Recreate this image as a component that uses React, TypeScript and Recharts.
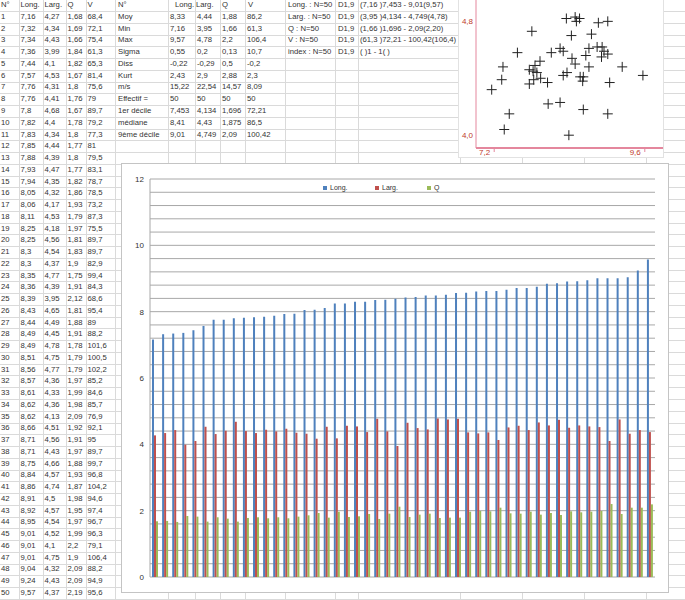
import React from "react";
import {
  BarChart, Bar, XAxis, YAxis, CartesianGrid, Legend, ScatterChart, Scatter,
} from "recharts";

// sample data (sheet columns A..E)
const ids = [
  1, 2, 3, 4, 5, 6, 7, 8, 9, 10, 11, 12, 13, 14, 15, 16, 17, 18, 19, 20, 21, 22, 23, 24, 25,
  26, 27, 28, 29, 30, 31, 32, 33, 34, 35, 36, 37, 38, 39, 40, 41, 42, 43, 44, 45, 46, 47, 48, 49, 50,
];
const longs = [
  7.16, 7.32, 7.34, 7.36, 7.44, 7.57, 7.76, 7.76, 7.8, 7.82, 7.83, 7.85, 7.88, 7.93, 7.94, 8.05, 8.06,
  8.11, 8.25, 8.25, 8.3, 8.3, 8.35, 8.36, 8.39, 8.43, 8.44, 8.49, 8.49, 8.51, 8.56, 8.57, 8.61, 8.62,
  8.62, 8.66, 8.71, 8.71, 8.75, 8.84, 8.86, 8.91, 8.92, 8.95, 9.01, 9.01, 9.01, 9.04, 9.24, 9.57,
];
const largs = [
  4.27, 4.34, 4.43, 3.99, 4.1, 4.53, 4.31, 4.41, 4.68, 4.4, 4.34, 4.44, 4.39, 4.47, 4.35, 4.32, 4.17,
  4.53, 4.18, 4.56, 4.54, 4.37, 4.77, 4.39, 3.95, 4.65, 4.49, 4.45, 4.78, 4.75, 4.77, 4.36, 4.33, 4.36,
  4.13, 4.51, 4.56, 4.43, 4.66, 4.57, 4.74, 4.5, 4.57, 4.54, 4.52, 4.1, 4.75, 4.32, 4.43, 4.37,
];
const qs = [
  1.68, 1.69, 1.66, 1.84, 1.82, 1.67, 1.8, 1.76, 1.67, 1.78, 1.8, 1.77, 1.8, 1.77, 1.82, 1.86, 1.93,
  1.79, 1.97, 1.81, 1.83, 1.9, 1.75, 1.91, 2.12, 1.81, 1.88, 1.91, 1.78, 1.79, 1.79, 1.97, 1.99, 1.98,
  2.09, 1.92, 1.91, 1.97, 1.88, 1.93, 1.87, 1.98, 1.95, 1.97, 1.99, 2.2, 1.9, 2.09, 2.09, 2.19,
];
const vs = [
  68.4, 72.1, 75.4, 61.3, 65.3, 81.4, 75.6, 79, 89.7, 79.2, 77.3, 81, 79.5, 83.1, 78.7, 78.5, 73.2,
  87.3, 75.5, 89.7, 89.7, 82.9, 99.4, 84.3, 68.6, 95.4, 89, 88.2, 101.6, 100.5, 102.2, 85.2, 84.6, 85.7,
  76.9, 92.1, 95, 89.7, 99.7, 96.8, 104.2, 94.6, 97.4, 96.7, 96.3, 79.1, 106.4, 88.2, 94.9, 95.6,
];

// summary block (columns F..J)
const statLabels = ["Moy", "Min", "Max", "Sigma", "Diss", "Kurt", "m/s", "Effectif =", "1er décile", "médiane", "9ème décile"];
const statLong = ["8,33", "7,16", "9,57", "0,55", "-0,22", "2,43", "15,22", "50", "7,453", "8,41", "9,01"];
const statLarg = ["4,44", "3,95", "4,78", "0,2", "-0,29", "2,9", "22,54", "50", "4,134", "4,43", "4,749"];
const statQ = ["1,88", "1,66", "2,2", "0,13", "0,5", "2,88", "14,57", "50", "1,696", "1,875", "2,09"];
const statV = ["86,2", "61,3", "106,4", "10,7", "-0,2", "2,3", "8,09", "50", "72,21", "86,5", "100,42"];

// ranges block (columns K..M)
const rangeNames = ["Long. : N=50", "Larg. : N=50", "Q : N=50", "V : N=50", "index : N=50"];
const rangeTag = "D1,9";
const rangeTexts = [
  "(7,16 )7,453 - 9,01(9,57)",
  "(3,95 )4,134 - 4,749(4,78)",
  "(1,66 )1,696 - 2,09(2,20)",
  "(61,3 )72,21 - 100,42(106,4)",
  "( )1 - 1( )",
];

const seriesOrder = ["Long.", "Larg.", "Q"];
const barTicks = [0, 2, 4, 6, 8, 10, 12];
const scatterXTicks = [7.2, 9.6];
const scatterYTicks = [4.0, 4.8];

const BLUE = "#4f81bd";
const RED = "#c0504d";
const GREEN = "#9bbb59";
const AXIS_RED = "#c0392b";
const FONT = "'Liberation Sans', Arial, sans-serif";

const ROW_H = 11.755;
const ROW0 = 5.2; // centre of header row
const colLines = [19, 43, 66, 86, 115, 168, 195, 220, 245, 285, 335, 358, 460, 522, 584, 646];

const fmt = (v: number) => String(v).replace(".", ",");
const fmt1 = (v: number) => v.toFixed(1).replace(".", ",");

// minor gridlines every 0.4, labels only on the even values
const gridTicks = Array.from({ length: 31 }, (_, i) => +(i * 0.4).toFixed(1));

const barData = ids.map((id, i) => ({ id, long: longs[i], larg: largs[i], q: qs[i] }));
const scatterData = longs.map((x, i) => ({ x, y: largs[i] }));

function Cell({ x, row, text }: { x: number; row: number; text: string }) {
  return (
    <div style={{
      position: "absolute", left: x, top: ROW0 + row * ROW_H - 6, height: 12, lineHeight: "12px",
      fontSize: 7.7, color: "#333", whiteSpace: "nowrap",
    }}>{text}</div>
  );
}

function Sheet() {
  const cells: React.ReactNode[] = [];
  ["N°", "Long.", "Larg.", "Q", "V"].forEach((h, c) =>
    cells.push(<Cell key={"h" + c} x={[1, 20.5, 44.5, 67.5, 87.5][c]} row={0} text={h} />));
  ids.forEach((id, i) => {
    const r = i + 1;
    cells.push(<Cell key={"a" + i} x={1} row={r} text={String(id)} />);
    cells.push(<Cell key={"b" + i} x={20.5} row={r} text={fmt(longs[i])} />);
    cells.push(<Cell key={"c" + i} x={44.5} row={r} text={fmt(largs[i])} />);
    cells.push(<Cell key={"d" + i} x={67.5} row={r} text={fmt(qs[i])} />);
    cells.push(<Cell key={"e" + i} x={87.5} row={r} text={fmt(vs[i])} />);
  });
  ["N°", "Long.", "Larg.", "Q", "V"].forEach((h, c) =>
    cells.push(<Cell key={"sh" + c} x={[118, 175, 196, 222, 248][c]} row={0} text={h} />));
  statLabels.forEach((l, i) => {
    const r = i + 1;
    cells.push(<Cell key={"f" + i} x={118} row={r} text={l} />);
    cells.push(<Cell key={"g" + i} x={170} row={r} text={statLong[i]} />);
    cells.push(<Cell key={"h" + i} x={197} row={r} text={statLarg[i]} />);
    cells.push(<Cell key={"i" + i} x={222} row={r} text={statQ[i]} />);
    cells.push(<Cell key={"j" + i} x={247} row={r} text={statV[i]} />);
  });
  rangeNames.forEach((n, i) => {
    cells.push(<Cell key={"k" + i} x={288} row={i} text={n} />);
    cells.push(<Cell key={"l" + i} x={338} row={i} text={rangeTag} />);
    cells.push(<Cell key={"m" + i} x={360} row={i} text={rangeTexts[i]} />);
  });
  const rowLines = Array.from({ length: 52 }, (_, i) => ROW0 + ROW_H / 2 + i * ROW_H);
  return (
    <>
      {rowLines.map((y, i) => (
        <div key={"rl" + i} style={{ position: "absolute", left: 0, top: y, width: 685, height: 1, background: "#dadada" }} />
      ))}
      {colLines.map((x, i) => (
        <div key={"cl" + i} style={{ position: "absolute", left: x, top: 0, width: 1, height: 600, background: "#dadada" }} />
      ))}
      {cells}
    </>
  );
}

const legendContent = (props: any) => {
  const items = [...(props.payload || [])].sort(
    (a: any, b: any) => seriesOrder.indexOf(a.value) - seriesOrder.indexOf(b.value));
  return (
    <div style={{ display: "flex", justifyContent: "center", fontSize: 7, color: "#333", paddingLeft: 12 }}>
      {items.map((e: any) => (
        <span key={e.value} style={{ width: 52, display: "flex", alignItems: "center" }}>
          <span style={{ width: 4, height: 4, background: e.color, marginRight: 3, display: "inline-block" }} />
          {e.value}
        </span>
      ))}
    </div>
  );
};

const Plus = (p: any) => (
  <path d={`M${p.cx - 5},${p.cy}h10M${p.cx},${p.cy - 5}v10`} stroke="#222" strokeWidth={1} fill="none" />
);

const XTick = (p: any) => (
  <g>
    <line x1={p.x} x2={p.x} y1={p.y + 1} y2={p.y + 4} stroke="#e4879d" />
    <text x={p.x - 4} y={p.y + 7} textAnchor="end" fontSize={8} fill={AXIS_RED}>{fmt1(p.payload.value)}</text>
  </g>
);

const YTick = (p: any) => (
  <text x={p.x - 3} y={p.y + 10} textAnchor="end" fontSize={8} fill={AXIS_RED}>{fmt1(p.payload.value)}</text>
);

export default function App() {
  return (
    <div style={{
      position: "absolute", left: 0, top: 0, width: 685, height: 600, overflow: "hidden",
      background: "#fff", fontFamily: FONT,
    }}>
      <Sheet />

      <div style={{
        position: "absolute", left: 458, top: -12, width: 206, height: 170,
        background: "#fff", border: "1px solid #e2e2e2", boxSizing: "border-box",
      }}>
        <ScatterChart width={204} height={168} margin={{ top: 11, right: 0, bottom: 0, left: 0 }}>
          <XAxis type="number" dataKey="x" domain={[6.91, 9.89]} ticks={scatterXTicks}
            allowDataOverflow tickSize={0} tickMargin={0} height={9} interval={0}
            axisLine={{ stroke: "#e4879d", strokeWidth: 2 }} tickLine={false} tick={<XTick />} />
          <YAxis type="number" dataKey="y" domain={[3.86, 4.9]} ticks={scatterYTicks}
            allowDataOverflow tickSize={0} tickMargin={0} width={17} interval={0}
            axisLine={{ stroke: "#e4879d" }} tickLine={false} tick={<YTick />} />
          <Scatter data={scatterData} shape={<Plus />} isAnimationActive={false} />
        </ScatterChart>
      </div>

      <div style={{
        position: "absolute", left: 121, top: 163, width: 548, height: 430,
        background: "#fff", border: "1px solid #c4c4c4", boxSizing: "border-box",
      }}>
        <BarChart width={546} height={428} data={barData}
          margin={{ top: 15, right: 13, bottom: 15, left: 0 }}
          barCategoryGap="20%" barGap={0}>
          <CartesianGrid horizontal vertical={false} stroke="#a8a8a8" />
          <XAxis dataKey="id" hide />
          <YAxis domain={[0, 12]} ticks={gridTicks} interval={0} width={28}
            tickSize={4} tickMargin={2} tickLine={false}
            axisLine={{ stroke: "#a8a8a8" }}
            tick={{ fontSize: 8, fill: "#333" }}
            tickFormatter={(v: number) => (barTicks.includes(v) ? String(v) : "")} />
          <Legend verticalAlign="middle" align="center" layout="horizontal"
            wrapperStyle={{ top: 20, left: 0, width: 546 }} content={legendContent} />
          <Bar dataKey="long" name="Long." fill={BLUE} isAnimationActive={false} />
          <Bar dataKey="larg" name="Larg." fill={RED} isAnimationActive={false} />
          <Bar dataKey="q" name="Q" fill={GREEN} isAnimationActive={false} />
        </BarChart>
      </div>
    </div>
  );
}
